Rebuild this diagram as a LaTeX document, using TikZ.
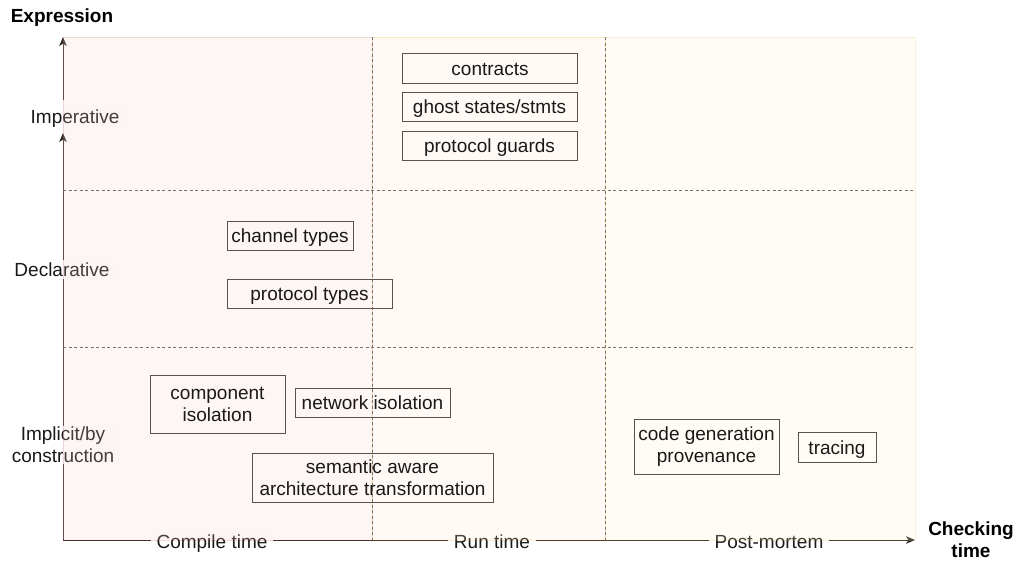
\documentclass[tikz,border=0pt]{standalone}
\usepackage{fontspec}
\setmainfont{Liberation Sans}
\usetikzlibrary{arrows.meta}
\definecolor{txt}{RGB}{25,25,25}
\definecolor{boxline}{RGB}{90,82,80}
\definecolor{axisline}{RGB}{45,40,35}
\definecolor{dashline}{RGB}{125,112,100}
\definecolor{pinkfill}{HTML}{F8CECC}
\definecolor{pinkstroke}{HTML}{B85450}
\definecolor{orangefill}{HTML}{FFE6CC}
\definecolor{orangestroke}{HTML}{D79B00}
\definecolor{yellowfill}{HTML}{FFF2CC}
\definecolor{yellowstroke}{HTML}{D6B656}
\tikzset{
  x=1pt,y=-1pt,
  every node/.style={font=\fontsize{19}{22}\selectfont, text=txt},
  oneline/.style={text height=15pt, text depth=1pt},
  itembox/.style={draw=boxline, line width=1pt, inner sep=0pt, align=center},
  axislabel/.style={fill=white, inner xsep=6pt, inner ysep=1.5pt, align=center},
  titlelabel/.style={font=\fontsize{19}{22}\selectfont\bfseries, text=black, align=center},
  axisarrow/.style={draw=axisline, line width=1pt, -{Stealth[length=9pt,width=7.5pt,inset=2.5pt]}},
  region/.style={fill opacity=0.2, draw opacity=0.2, line width=0.8pt},
  gridline/.style={draw=dashline, line width=1pt, dash pattern=on 3pt off 2.5pt},
}
\begin{document}
\begin{tikzpicture}
\useasboundingbox (0,0) rectangle (1019,563);
% coordinates
\coordinate (ybot) at (63,540);
\coordinate (ymidA) at (63,133);
\coordinate (ymidB) at (63,100);
\coordinate (ytop) at (63,37);
\coordinate (xend) at (915,540);
% axes
\draw[axisarrow] (ybot) -- (ymidA);
\draw[axisarrow] (ymidB) -- (ytop);
\draw[axisarrow] (ybot) -- (xend);
% axis labels
\node[titlelabel] (expr) at (62,18) {Expression};
\node[titlelabel] (check) at (971,540) {Checking\\time};
\node[axislabel, oneline] (imp) at (75,116) {Imperative};
\node[axislabel, oneline] (decl) at (62,269) {Declarative};
\node[axislabel] (impl) at (63,445) {Implicit/by\\construction};
\node[axislabel, oneline] (ct) at (212,541) {Compile time};
\node[axislabel, oneline] (rt) at (492,541) {Run time};
\node[axislabel, oneline] (pm) at (769,541) {Post-mortem};
% regions
\path[region, fill=pinkfill, draw=pinkstroke] (63,37) rectangle (372,540);
\path[region, fill=orangefill, draw=orangestroke] (372,37) rectangle (605,540);
\path[region, fill=yellowfill, draw=yellowstroke] (605,37) rectangle (915,540);
% grid lines
\coordinate (v1t) at (372,37); \coordinate (v1b) at (372,540);
\coordinate (v2t) at (605,37); \coordinate (v2b) at (605,540);
\coordinate (h1l) at (63,190); \coordinate (h1r) at (915,190);
\coordinate (h2l) at (63,347); \coordinate (h2r) at (915,347);
\draw[gridline] (v1t) -- (v1b);
\draw[gridline] (v2t) -- (v2b);
\draw[gridline] (h1l) -- (h1r);
\draw[gridline] (h2l) -- (h2r);
% boxes
\node[itembox, oneline, minimum width=175, minimum height=30] (contracts) at (490,68) {contracts};
\node[itembox, oneline, minimum width=175, minimum height=29] (ghost) at (489.5,106.5) {ghost states/stmts};
\node[itembox, oneline, minimum width=175, minimum height=29] (guards) at (489.5,145.5) {protocol guards};
\node[itembox, oneline, minimum width=126, minimum height=29] (chan) at (290,235.5) {channel types};
\node[itembox, oneline, minimum width=165, minimum height=29] (ptypes) at (309.5,293.5) {protocol types};
\node[itembox, minimum width=135, minimum height=58] (comp) at (217.5,404) {component\\isolation};
\node[itembox, oneline, minimum width=155, minimum height=29] (net) at (372.5,402.5) {network isolation};
\node[itembox, minimum width=241, minimum height=49] (sem) at (372.5,477.5) {semantic aware\\architecture transformation};
\node[itembox, minimum width=145, minimum height=55] (codegen) at (706.5,446.5) {code generation\\provenance};
\node[itembox, oneline, minimum width=78, minimum height=30] (tracing) at (837,447) {tracing};
\end{tikzpicture}
\end{document}
